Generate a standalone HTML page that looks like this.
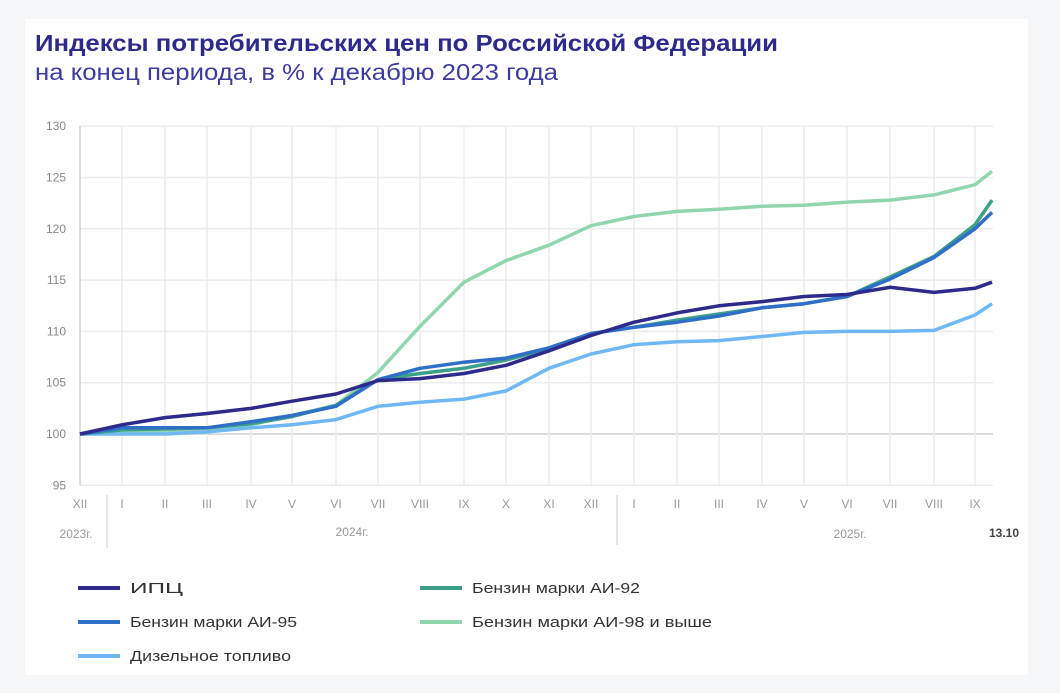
<!DOCTYPE html>
<html><head><meta charset="utf-8"><style>
body{margin:0;width:1060px;height:693px;background:#f5f6f8;font-family:"Liberation Sans",sans-serif;overflow:hidden}
#p{position:absolute;left:25px;top:19px;width:1003px;height:656px;background:#fff}
</style></head><body>
<div id="p"></div>
<svg id="s" width="1060" height="693" style="position:absolute;left:0;top:0" font-family="Liberation Sans, sans-serif"></svg>
<script>
const xs=[80,122,165,207,251,292,336,378,420,464,506,549,591,634,677,719,762,804,847,890,934,975,992];
const Y=v=>434-(v-100)*10.26;
let h='';
h+=`<text x="35" y="51" font-size="23" font-weight="bold" fill="#2e2a8c" textLength="743" lengthAdjust="spacingAndGlyphs">Индексы потребительских цен по Российской Федерации</text>`;
h+=`<text x="35" y="80" font-size="23" fill="#3d3aa0" textLength="523" lengthAdjust="spacingAndGlyphs">на конец периода, в % к декабрю 2023 года</text>`;
for(let v=95;v<=130;v+=5){const y=Y(v);h+=`<line x1="80" x2="993" y1="${y}" y2="${y}" stroke="${v==100?'#d0d0d0':'#ececec'}" stroke-width="1.5"/><text x="66" y="${y+4}" font-size="12" fill="#888" text-anchor="end">${v}</text>`;}
const m=['XII','I','II','III','IV','V','VI','VII','VIII','IX','X','XI','XII','I','II','III','IV','V','VI','VII','VIII','IX'];
for(let i=0;i<22;i++){h+=`<line x1="${xs[i]}" x2="${xs[i]}" y1="126" y2="485" stroke="${i==0?'#d0d0d0':'#ececec'}" stroke-width="1.5"/><text x="${xs[i]}" y="508" font-size="12" fill="#999" text-anchor="middle">${m[i]}</text>`;}
h+=`<line x1="107" x2="107" y1="495" y2="548" stroke="#ccc"/><line x1="617" x2="617" y1="495" y2="545" stroke="#ccc"/>`;
h+=`<text x="76" y="538" font-size="12" fill="#999" text-anchor="middle">2023г.</text><text x="352" y="536" font-size="12" fill="#999" text-anchor="middle">2024г.</text><text x="850" y="538" font-size="12" fill="#999" text-anchor="middle">2025г.</text><text x="1004" y="537" font-size="12" font-weight="bold" fill="#444" text-anchor="middle">13.10</text>`;
const S=[
['#8fd6ae',[100,100.1,100.2,100.4,100.9,101.8,102.8,106,110.5,114.8,116.9,118.4,120.3,121.2,121.7,121.9,122.2,122.3,122.6,122.8,123.3,124.3,125.6]],
['#6fb8f5',[100,100,100,100.2,100.6,100.9,101.4,102.7,103.1,103.4,104.2,106.4,107.8,108.7,109,109.1,109.5,109.9,110,110,110.1,111.6,112.7]],
['#3aa08a',[100,100.4,100.5,100.6,101,101.7,102.8,105.3,105.9,106.4,107.2,108.3,109.8,110.4,111.1,111.7,112.3,112.7,113.4,115.3,117.3,120.4,122.8]],
['#2f6fc8',[100,100.6,100.6,100.6,101.2,101.8,102.7,105.3,106.4,107,107.4,108.4,109.8,110.4,110.9,111.5,112.3,112.7,113.4,115.1,117.2,120,121.6]],
['#2e2a8c',[100,100.9,101.6,102,102.5,103.2,103.9,105.2,105.4,105.9,106.7,108.1,109.6,110.9,111.8,112.5,112.9,113.4,113.6,114.3,113.8,114.2,114.8]]];
for(const [c,d] of S){h+=`<polyline fill="none" stroke="${c}" stroke-width="3.5" stroke-linejoin="round" points="${d.map((v,i)=>xs[i]+','+Y(v).toFixed(1)).join(' ')}"/>`;}
const L=[[78,588,'#2e2a8c','ИПЦ',53],[420,588,'#3aa08a','Бензин марки АИ-92',168],[78,622,'#2f6fc8','Бензин марки АИ-95',167],[420,622,'#8fd6ae','Бензин марки АИ-98 и  выше',240],[78,656,'#6fb8f5','Дизельное топливо',161]];
for(const [x,y,c,t,w] of L){h+=`<line x1="${x}" x2="${x+42}" y1="${y}" y2="${y}" stroke="${c}" stroke-width="4"/><text x="${x+52}" y="${y+5}" font-size="15" fill="#333" textLength="${w}" lengthAdjust="spacingAndGlyphs">${t}</text>`;}
document.getElementById('s').innerHTML=h;
</script>
</body></html>
